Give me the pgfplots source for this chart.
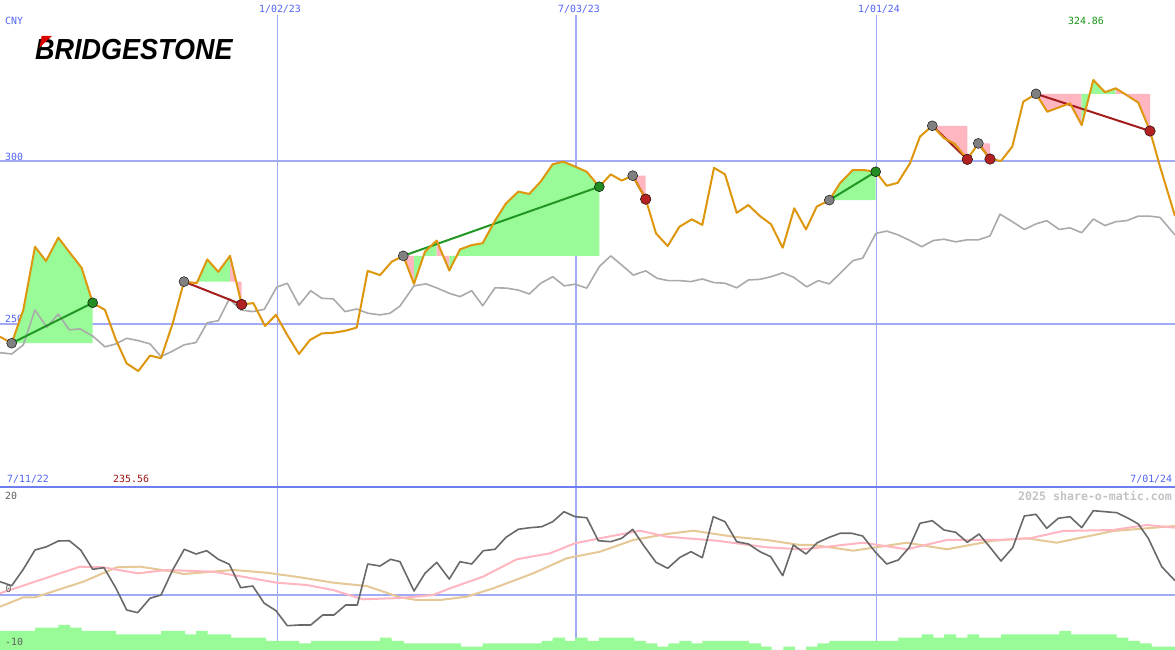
\documentclass[border=0pt]{standalone}
\usepackage{pgfplots}
\pgfplotsset{compat=1.18}
\usepackage{fontspec}
\setmainfont{DejaVu Sans Mono}
\newfontfamily\logofont{Liberation Sans}
\definecolor{gridblue}{RGB}{160,170,245}
\definecolor{sepblue}{RGB}{110,125,240}
\definecolor{labelblue}{RGB}{80,100,245}
\definecolor{priceorange}{RGB}{222,150,12}
\definecolor{fillgreen}{RGB}{152,251,152}
\definecolor{fillpink}{RGB}{255,182,193}
\definecolor{idxgray}{RGB}{170,170,170}
\definecolor{markgray}{RGB}{128,128,128}
\definecolor{markgreen}{RGB}{34,139,34}
\definecolor{markred}{RGB}{178,34,34}
\definecolor{linegreen}{RGB}{34,150,34}
\definecolor{linered}{RGB}{165,30,30}
\definecolor{oscgray}{RGB}{105,105,105}
\definecolor{tanma}{RGB}{230,200,150}
\definecolor{textgreen}{RGB}{20,150,20}
\definecolor{textred}{RGB}{160,20,20}
\definecolor{wmgray}{RGB}{195,195,195}
\definecolor{lblgray}{RGB}{95,95,95}
\begin{document}
\begin{tikzpicture}[x=1pt,y=1pt,every node/.style={inner sep=0pt,font=\fontsize{9.9}{11}\selectfont}]
\fill[white] (0,0) rectangle (1175,650);
% grid lines
\draw[gridblue,line width=1pt] (277,635) -- (277,0);
\draw[gridblue,line width=2pt] (576,635) -- (576,0);
\draw[gridblue,line width=1pt] (876,635) -- (876,0);
\draw[gridblue,line width=2pt] (0,489) -- (1175,489);
\draw[gridblue,line width=2pt] (0,326) -- (1175,326);
\draw[gridblue,line width=2pt] (0,55) -- (1175,55);
\draw[sepblue,line width=2.5pt] (0,163) -- (1175,163);
% labels
\node[anchor=west,text=labelblue] at (5,629) {CNY};
\node[text=labelblue] at (280,641) {1/02/23};
\node[text=labelblue] at (579,641) {7/03/23};
\node[text=labelblue] at (879,641) {1/01/24};
\node[text=textgreen] at (1086,629) {324.86};
\node[anchor=west,text=labelblue] at (5,493.5) {300};
\node[anchor=west,text=labelblue] at (5,331) {250};
\node[anchor=west,text=labelblue] at (7,171) {7/11/22};
\node[anchor=west,text=textred] at (113,171) {235.56};
\node[anchor=east,text=labelblue] at (1172.3,171) {7/01/24};
\node[anchor=east,text=wmgray,font=\fontsize{11.6}{13}\selectfont\bfseries] at (1172,154) {2025 share-o-matic.com};
% logo
\node[anchor=base west,xscale=0.93,font=\logofont\bfseries\itshape\fontsize{29}{30}\selectfont] at (35,590) {BRIDGESTONE};
\fill[red!85!black] (41.7,614) -- (52,614) -- (39.3,602.3) -- cycle;

\begin{axis}[at={(0pt,163pt)},anchor=south west,width=1175pt,height=487pt,scale only axis,
  xmin=0,xmax=1175,ymin=200,ymax=349.387,hide axis,clip=false]
% fills
\addplot[fill=fillgreen,draw=none] coordinates {(11.7,244.1) (23.3,254.3) (35,273.7) (46,269.3) (58.3,276.5) (70,271.8) (81.7,267.2) (92.7,256.5) (92.7,244.1)} --cycle;
\addplot[fill=fillpink,draw=none] coordinates {(184,263.0) (196.7,262.5) (196.7,263.0)} --cycle;
\addplot[fill=fillgreen,draw=none] coordinates {(196.7,263) (196.7,262.5) (207.3,269.8) (218.3,266.0) (230,270.9) (230,263)} --cycle;
\addplot[fill=fillpink,draw=none] coordinates {(230,263) (230,270.9) (241.7,256.0) (241.7,263)} --cycle;
\addplot[fill=fillpink,draw=none] coordinates {(403.3,270.9) (414,262.3) (414,270.9)} --cycle;
\addplot[fill=fillgreen,draw=none] coordinates {(414,270.9) (414,262.3) (425,272.2) (436.7,275.6) (436.7,270.9)} --cycle;
\addplot[fill=fillpink,draw=none] coordinates {(436.7,270.9) (436.7,275.6) (449.3,266.4) (449.3,270.9)} --cycle;
\addplot[fill=fillgreen,draw=none] coordinates {(449.3,270.9) (449.3,266.4) (460,272.9) (471.7,274.2) (482.7,274.8) (495,281.7) (506,287.0) (518.3,290.6) (529.3,289.9) (540.7,293.7) (552.7,299.0) (563.3,299.8) (575,298.3) (586.7,296.7) (599.3,292.1) (599.3,270.9)} --cycle;
\addplot[fill=fillpink,draw=none] coordinates {(632.7,295.5) (645.7,288.3) (645.7,295.5)} --cycle;
\addplot[fill=fillgreen,draw=none] coordinates {(829.3,288) (840,293.2) (852.7,297.2) (864,297.2) (875.7,296.7) (875.7,288)} --cycle;
\addplot[fill=fillpink,draw=none] coordinates {(932.3,310.8) (944,307.0) (955,305.2) (967.3,300.5) (967.3,310.8)} --cycle;
\addplot[fill=fillpink,draw=none] coordinates {(978.3,305.4) (990,300.6) (990,305.4)} --cycle;
\addplot[fill=fillpink,draw=none] coordinates {(1036,320.6) (1047.3,315.1) (1059.3,316.5) (1070,317.7) (1081.7,311.0) (1081.7,320.6)} --cycle;
\addplot[fill=fillgreen,draw=none] coordinates {(1081.7,320.6) (1081.7,311.0) (1093.3,324.86) (1105,321.1) (1115.7,322.3) (1115.7,320.6)} --cycle;
\addplot[fill=fillpink,draw=none] coordinates {(1115.7,320.6) (1115.7,322.3) (1126.7,320.2) (1138.3,317.9) (1150,309.2) (1150,320.6)} --cycle;
% index line
\addplot[idxgray,line width=1.6pt,line join=round] coordinates {(0,241.2) (11.7,240.8) (23.3,243.6) (35,254.3) (46.7,249.0) (58.3,253.0) (69.3,248.2) (80,248.5) (92.7,246.3) (105,243.0) (116,243.9) (126.7,245.6) (138.3,244.9) (150,243.9) (161,240.0) (172.7,241.7) (184,243.6) (196,244.3) (207.3,250.4) (218.3,251.0) (229.3,257.7) (240.7,254.3) (252.7,253.8) (264.3,254.5) (276.7,261.3) (287.3,262.5) (299,255.8) (310.7,260.2) (321.7,257.9) (333.3,257.7) (345,253.8) (356.7,254.6) (367.7,253.3) (380,252.8) (390,253.3) (400,255.5) (414,261.7) (426,262.3) (437.3,261.0) (449.3,259.4) (460,258.4) (471.7,260.2) (482.7,255.6) (495,261.1) (506.7,261.0) (518.3,260.4) (529.3,259.2) (540.7,262.5) (552.7,264.5) (564.3,261.7) (575,262.2) (586.7,261.0) (599.3,267.6) (610.7,270.9) (621.7,268.1) (633.3,265.0) (645.7,266.3) (657.3,264.0) (668.3,263.3) (680,263.3) (690.7,263.0) (702.3,263.8) (714,262.7) (725,262.5) (736.7,261.1) (748.3,263.5) (760,263.7) (771,264.5) (782.7,265.7) (793.3,264.4) (806.7,261.4) (818.3,263.3) (829.3,262.3) (841.7,266.0) (852.7,269.4) (862.7,270.2) (876,277.8) (886.7,278.5) (898.3,277.3) (910,275.6) (921.7,273.7) (933.3,275.6) (944,276.0) (955.7,275.2) (966.7,275.8) (978.3,275.8) (990,277.0) (1000,283.7) (1012.3,281.4) (1024.3,279.0) (1036,280.7) (1046.7,281.7) (1059.3,279.0) (1070,279.5) (1081.7,278.0) (1093.3,282.2) (1105,280.2) (1116,281.4) (1126.7,281.7) (1138.3,283.1) (1149.3,283.1) (1160,282.7) (1175,277.3)};
% connecting lines
\addplot[linegreen,line width=2pt] coordinates {(11.7,244.1) (92.7,256.5)};
\addplot[linered,line width=2pt] coordinates {(184,263.0) (241.7,256.0)};
\addplot[linegreen,line width=2pt] coordinates {(403.3,270.9) (599.3,292.1)};
\addplot[linered,line width=2pt] coordinates {(632.7,295.5) (645.7,288.3)};
\addplot[linegreen,line width=2pt] coordinates {(829.3,288.0) (875.7,296.7)};
\addplot[linered,line width=2pt] coordinates {(932.3,310.8) (967.3,300.5)};
\addplot[linered,line width=2pt] coordinates {(978.3,305.4) (990,300.6)};
\addplot[linered,line width=2pt] coordinates {(1036,320.6) (1150,309.2)};
% markers
\addplot[only marks,mark=*,mark size=5pt,mark options={draw=none,fill=markgray}] coordinates {(11.7,244.1) (184,263.0) (403.3,270.9) (632.7,295.5) (829.3,288.0) (932.3,310.8) (978.3,305.4) (1036,320.6)};
\addplot[only marks,mark=*,mark size=5pt,mark options={draw=none,fill=markgreen}] coordinates {(92.7,256.5) (599.3,292.1) (875.7,296.7)};
\addplot[only marks,mark=*,mark size=5.3pt,mark options={draw=none,fill=markred}] coordinates {(241.7,256.0) (645.7,288.3) (967.3,300.5) (990,300.6) (1150,309.2)};
% price
\addplot[priceorange,line width=2pt,line join=round] coordinates {(0,246.1) (11.7,244.1) (23.3,254.3) (35,273.7) (46,269.3) (58.3,276.5) (70,271.8) (81.7,267.2) (92.7,256.5) (105,254.3) (116,245.1) (126.7,237.9) (138.3,235.56) (150,240.3) (161,239.5) (172.7,250.2) (184,263.0) (196.7,262.5) (207.3,269.8) (218.3,266.0) (230,270.9) (241.7,256.0) (253.3,256.4) (265,249.4) (276,252.8) (287.3,246.6) (299,240.8) (310,245.1) (321.7,247.1) (333.3,247.3) (345,247.9) (356.7,248.9) (367.7,266.3) (380,265.0) (391.7,269.1) (403.3,270.9) (414,262.3) (425,272.2) (436.7,275.6) (449.3,266.4) (460,272.9) (471.7,274.2) (482.7,274.8) (495,281.7) (506,287.0) (518.3,290.6) (529.3,289.9) (540.7,293.7) (552.7,299.0) (563.3,299.8) (575,298.3) (586.7,296.7) (599.3,292.1) (610.7,295.9) (621.7,294.0) (632.7,295.5) (645.7,288.3) (656,277.8) (667.7,273.9) (679.3,279.8) (691.7,282.1) (702.3,280.4) (714,297.9) (725,295.9) (736.7,284.1) (748.3,286.5) (760,283.1) (771,280.6) (782.7,273.4) (794.3,285.5) (806,279.0) (816.7,286.0) (829.3,288.0) (840,293.2) (852.7,297.2) (864,297.2) (875.7,296.7) (886.7,292.4) (897.7,293.3) (910,299.3) (920,307.5) (932.3,310.8) (944,307.0) (955,305.2) (967.3,300.5) (978.3,305.4) (990,300.6) (1001,300.0) (1012.3,304.4) (1023.3,318.2) (1036,320.6) (1047.3,315.1) (1059.3,316.5) (1070,317.7) (1081.7,311.0) (1093.3,324.86) (1105,321.1) (1115.7,322.3) (1126.7,320.2) (1138.3,317.9) (1150,309.2) (1160,298.3) (1175,283.1)};
\end{axis}

\begin{axis}[at={(0pt,0pt)},anchor=south west,width=1175pt,height=163pt,scale only axis,
  xmin=0,xmax=1175,ymin=-11,ymax=21.6,hide axis,clip=false]
\addplot[const plot,fill=fillgreen,draw=none] coordinates {(0,-11) (0,-7.2) (35,-6.54) (58.3,-6) (70,-6.54) (81.7,-7.2) (116,-7.86) (161,-7.2) (185,-7.86) (196,-7.2) (207.7,-7.86) (231,-8.54) (266,-9.2) (299.3,-9.66) (311,-9.2) (380,-8.54) (391.7,-9.2) (404,-9.66) (461,-10.34) (482.7,-9.66) (541.7,-9.2) (552.7,-8.54) (565,-9.2) (575,-8.54) (587.7,-9.2) (599,-8.54) (634.3,-9.2) (646,-9.66) (657.3,-10.34) (668.3,-9.66) (679.3,-9.2) (691.7,-9.66) (702.3,-9.2) (749,-9.66) (761,-10.34) (771.7,-11) (783.3,-10.34) (795,-11) (806,-10.34) (817.3,-9.66) (829.3,-9.2) (898.3,-8.54) (921.7,-7.86) (933.3,-8.54) (944,-7.86) (956,-8.54) (967.3,-7.86) (979,-8.54) (1001,-7.86) (1059.3,-7.2) (1071,-7.86) (1116.7,-8.54) (1128.3,-9.2) (1140,-9.66) (1151.7,-10.34) (1175,-10.34) (1175,-11)} --cycle;
\addplot[tanma,line width=2pt,line join=round] coordinates {(0,-2.34) (23.3,-0.46) (35,-0.46) (83.3,2.66) (116.7,5.54) (140,5.66) (173.3,4.66) (183.3,4.2) (233.3,5.0) (266.7,4.46) (300,3.54) (333.3,2.46) (366.7,1.8) (400,-0.46) (416.7,-1.0) (440,-1.0) (466.7,-0.34) (493.3,1.34) (533.3,4.34) (566.7,7.34) (600,8.66) (633.3,11.0) (666.7,12.2) (693.3,12.86) (733.3,11.66) (766.7,11.0) (800,10.0) (813.3,10.0) (853.3,8.86) (906.7,10.46) (946.7,9.14) (993.3,10.86) (1026.7,11.34) (1056.7,10.46) (1113.3,12.8) (1175,13.8)};
\addplot[fillpink,line width=2pt,line join=round] coordinates {(0,0.34) (40,3.0) (80,5.66) (103,5.54) (138,4.34) (166.7,5.0) (213,4.66) (233,4.0) (276.7,2.46) (306.7,2.0) (333,1.0) (363,-0.86) (400,-0.6) (433,0) (450,1.34) (483,3.66) (516.7,7.14) (550,8.34) (575,10.34) (600,11.34) (640,12.86) (666.7,11.66) (716.7,10.86) (766.7,9.54) (800,9.14) (813,9.34) (863,10.46) (906.7,9.14) (946.7,11.0) (996.7,11.0) (1030,11.34) (1063,12.8) (1113,13.0) (1146.7,14.0) (1175,13.46)};
\addplot[oscgray,line width=1.6pt,line join=round] coordinates {(0,2.66) (11.7,1.86) (23.3,5.14) (35,9.0) (46.7,9.66) (58.3,10.8) (69.3,10.86) (80.7,9.0) (92.7,5.14) (104,5.46) (116,1.34) (126.7,-3.0) (137.7,-3.54) (150,-0.66) (161,0) (172.7,5.0) (184.3,9.14) (196,8.2) (206.7,8.86) (218.3,7.14) (229.3,6.14) (240.7,1.46) (252.7,1.8) (264.3,-1.66) (276,-3.14) (287.3,-6.14) (299.3,-6.0) (310.7,-6.0) (322.7,-4.0) (334,-4.0) (345.7,-2.0) (357.3,-2.0) (367.7,6.2) (380,5.8) (390.7,7.14) (400,6.66) (414,0.8) (425,4.34) (436.7,6.54) (449.3,3.2) (460,6.66) (471.7,6.2) (483.3,8.86) (495,9.14) (506,11.54) (518.3,13.14) (530,13.46) (541.7,13.66) (552.7,14.66) (564,16.66) (575,15.66) (586.7,15.46) (598.3,10.86) (610.7,10.66) (621.7,11.34) (632.7,13.14) (644,9.8) (656,6.54) (667.7,5.34) (680,7.54) (691,8.66) (702.3,7.46) (713.3,15.66) (725,14.66) (736.7,10.66) (748.3,10.2) (760,8.66) (770.7,7.66) (782.7,3.86) (793.3,10.0) (806,8.2) (817.3,10.46) (828.3,11.46) (840,12.34) (851.7,12.34) (862.7,11.8) (875,8.66) (886.7,6.2) (898.3,7.0) (909.3,9.54) (920,14.34) (932.3,14.86) (944,13.0) (955.7,12.54) (967.3,10.54) (979,12.2) (990,9.54) (1001,6.8) (1012.7,9.46) (1024.3,15.8) (1036,16.14) (1046.7,13.34) (1058.3,15.34) (1070,15.66) (1081.7,13.46) (1093.3,16.86) (1105,16.66) (1116.7,16.46) (1128.3,15.34) (1138.3,14.2) (1148.3,11.34) (1161.7,5.66) (1175,2.86)};
\end{axis}
% bottom panel labels on top
\node[anchor=west,text=lblgray] at (5,154) {20};
\node[anchor=west,text=lblgray] at (5.5,61) {0};
\node[anchor=west,text=lblgray] at (5,8) {-10};
\pgfresetboundingbox
\useasboundingbox (0,0) rectangle (1175,650);
\end{tikzpicture}
\end{document}
